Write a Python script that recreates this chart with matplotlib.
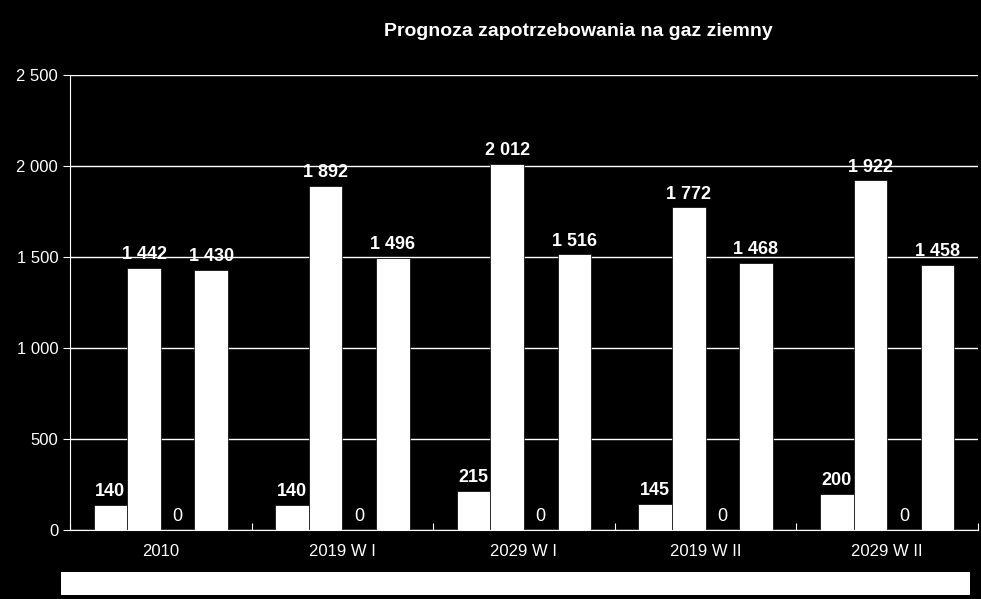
import numpy as np
import matplotlib
matplotlib.use('Agg')
import matplotlib.pyplot as plt
from matplotlib.patches import Rectangle

categories = ['2010', '2019 W I', '2029 W I', '2019 W II', '2029 W II']
series_a = [140, 140, 215, 145, 200]
series_b = [1442, 1892, 2012, 1772, 1922]
series_c = [0, 0, 0, 0, 0]
series_d = [1430, 1496, 1516, 1468, 1458]
yticks = [0, 500, 1000, 1500, 2000, 2500]


def fmt(v):
    return '{:,}'.format(v).replace(',', ' ')


plt.rcParams['font.family'] = ['Liberation Sans', 'DejaVu Sans']
fig = plt.figure(figsize=(9.81, 5.99), dpi=100, facecolor='black')
ax = fig.add_axes([70 / 981, 1 - 530 / 599, 908 / 981, 455 / 599], facecolor='black')

x = np.arange(len(categories))
w = 0.185
for k, vals in enumerate([series_a, series_b, series_c, series_d]):
    pos = x + (k - 1.5) * w
    ax.bar(pos, vals, width=w, color='white', edgecolor='black', linewidth=0.5)
    for p, v in zip(pos, vals):
        ax.text(p, v + 25, fmt(v), ha='center', va='bottom', color='white', fontsize=13,
                fontweight='normal' if v == 0 else 'bold', zorder=0 if k == 0 else 3)

ax.set_xlim(-0.5, len(categories) - 0.5)
ax.set_ylim(0, 2500)
ax.set_yticks(yticks)
ax.set_yticklabels([fmt(t) for t in yticks], color='white', fontsize=12)
ax.set_xticks(np.arange(len(categories) + 1) - 0.5, minor=False)
ax.set_xticklabels([])
ax.set_xticks(x, minor=True)
ax.set_xticklabels(categories, minor=True, color='white', fontsize=12)
ax.tick_params(axis='x', which='minor', length=0, pad=10)
ax.tick_params(axis='x', which='major', length=5, color='white', direction='in')
ax.tick_params(axis='y', length=5, color='white', direction='out')
ax.yaxis.grid(True, color='white', linewidth=1)
ax.set_axisbelow(True)
for s in ['top', 'right']:
    ax.spines[s].set_visible(False)
ax.spines['left'].set_color('white')
ax.spines['bottom'].set_color('white')

fig.text(578 / 981, 1 - 32 / 599, 'Prognoza zapotrzebowania na gaz ziemny', ha='center', va='center',
         color='white', fontsize=14, fontweight='bold')
fig.patches.append(Rectangle((61 / 981, 1 - 595 / 599), 909 / 981, 23 / 599,
                             transform=fig.transFigure, facecolor='white', edgecolor='none'))

fig.savefig('out.png', dpi=100, facecolor='black')
